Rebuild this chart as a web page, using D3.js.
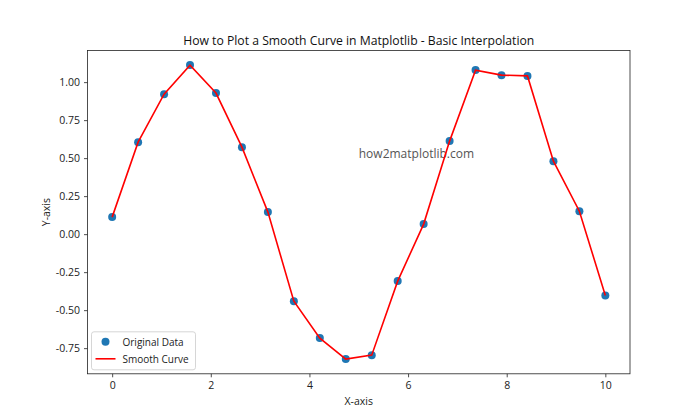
<!DOCTYPE html>
<html>
<head>
<meta charset="utf-8">
<script src="https://cdn.jsdelivr.net/npm/d3@7"></script>
<style>
  body { margin: 0; background: #fff; }
  text { font-family: "Open Sans", "Noto Sans", sans-serif; }
</style>
</head>
<body>
<svg id="chart" width="700" height="420"></svg>
<script>
const xValues = d3.range(20).map(i => i * 10 / 19);
const yValues = [0.112, 0.605, 0.921, 1.112, 0.928, 0.572, 0.145, -0.441, -0.684, -0.822,
                 -0.796, -0.309, 0.066, 0.612, 1.079, 1.046, 1.041, 0.480, 0.151, -0.404];
const xTicks = [0, 2, 4, 6, 8, 10];
const yTicks = [-0.75, -0.5, -0.25, 0, 0.25, 0.5, 0.75, 1.0];
const titleText = "How to Plot a Smooth Curve in Matplotlib - Basic Interpolation";
const xLabel = "X-axis";
const yLabel = "Y-axis";
const watermark = "how2matplotlib.com";
const legendLabels = ["Original Data", "Smooth Curve"];

const W = 700, H = 420;
const margin = { left: 87.5, right: 70, top: 50.4, bottom: 46.2 };
const pw = W - margin.left - margin.right;
const ph = H - margin.top - margin.bottom;

const svg = d3.select("#chart");
const g = svg.append("g").attr("transform", `translate(${margin.left},${margin.top})`);

const xmin = d3.min(xValues), xmax = d3.max(xValues);
const ymin = d3.min(yValues), ymax = d3.max(yValues);
const xpad = (xmax - xmin) * 0.05, ypad = (ymax - ymin) * 0.05;
const x = d3.scaleLinear().domain([xmin - xpad, xmax + xpad]).range([0, pw]);
const y = d3.scaleLinear().domain([ymin - ypad, ymax + ypad]).range([ph, 0]);

const fmtY = d => d3.format(".2f")(d).replace("−", "-");

const xAxis = g.append("g").attr("transform", `translate(0,${ph})`)
  .call(d3.axisBottom(x).tickValues(xTicks).tickFormat(d3.format("d")).tickSize(3.5).tickPadding(4));
const yAxis = g.append("g")
  .call(d3.axisLeft(y).tickValues(yTicks).tickFormat(fmtY).tickSize(3.5).tickPadding(4));
[xAxis, yAxis].forEach(a => {
  a.select(".domain").remove();
  a.selectAll("line").attr("stroke", "#222").attr("stroke-width", 0.8);
  a.selectAll("text").attr("fill", "#222").style("font-size", "10.5px").style("font-family", "'Open Sans', sans-serif");
});

// watermark
g.append("text")
  .attr("x", x(5)).attr("y", y(0.5))
  .attr("fill", "#555")
  .style("font-size", "12px")
  .text(watermark);

// scatter
g.selectAll("circle.pt").data(xValues).enter().append("circle")
  .attr("class", "pt")
  .attr("cx", d => x(d))
  .attr("cy", (d, i) => y(yValues[i]))
  .attr("r", 4)
  .attr("fill", "#1f77b4");

// line
const line = d3.line().x(d => x(d[0])).y(d => y(d[1]));
g.append("path")
  .datum(xValues.map((d, i) => [d, yValues[i]]))
  .attr("d", line)
  .attr("fill", "none")
  .attr("stroke", "red")
  .attr("stroke-width", 1.6);

// frame
g.append("rect").attr("width", pw).attr("height", ph)
  .attr("fill", "none").attr("stroke", "#222").attr("stroke-width", 0.8);

// title & labels
svg.append("text").attr("x", margin.left + pw / 2).attr("y", 45)
  .attr("text-anchor", "middle").attr("fill", "#111").style("font-size", "12.2px").text(titleText);
svg.append("text").attr("x", margin.left + pw / 2).attr("y", 405)
  .attr("text-anchor", "middle").attr("fill", "#222").style("font-size", "10.5px").text(xLabel);
svg.append("text").attr("transform", `translate(50,${margin.top + ph / 2}) rotate(-90)`)
  .attr("text-anchor", "middle").attr("fill", "#222").style("font-size", "10.5px").text(yLabel);

// legend
const lg = g.append("g").attr("transform", `translate(4,${ph - 42})`);
lg.append("rect").attr("width", 104).attr("height", 38).attr("rx", 2.5)
  .attr("fill", "white").attr("fill-opacity", 0.8).attr("stroke", "#ccc").attr("stroke-width", 0.8);
lg.append("circle").attr("cx", 14).attr("cy", 10).attr("r", 4).attr("fill", "#1f77b4");
lg.append("text").attr("x", 31).attr("y", 14).attr("fill", "#222").style("font-size", "10px").text(legendLabels[0]);
lg.append("line").attr("x1", 4).attr("x2", 24).attr("y1", 27).attr("y2", 27).attr("stroke", "red").attr("stroke-width", 1.6);
lg.append("text").attr("x", 31).attr("y", 31).attr("fill", "#222").style("font-size", "10px").text(legendLabels[1]);
</script>
</body>
</html>
